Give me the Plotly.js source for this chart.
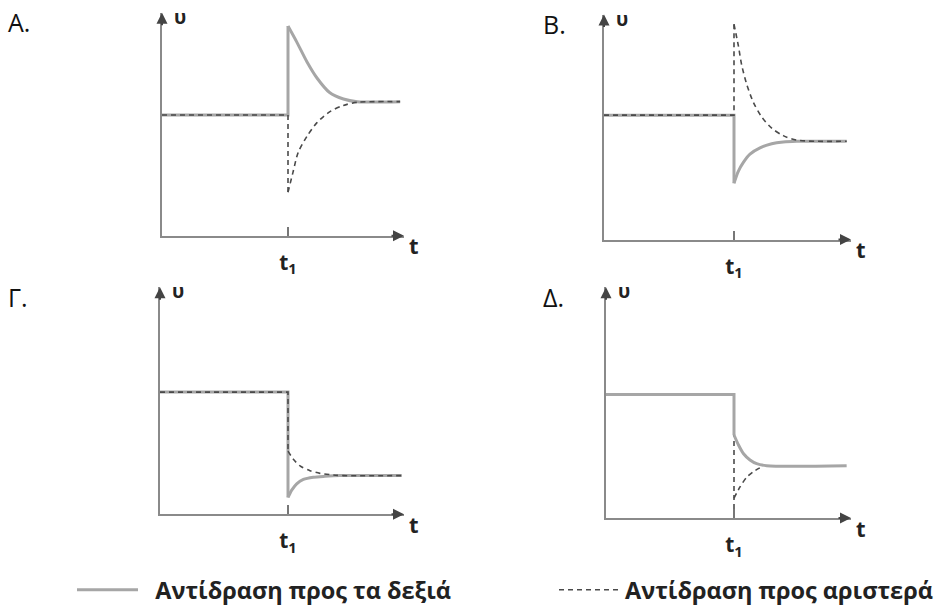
<!DOCTYPE html>
<html>
<head>
<meta charset="utf-8">
<script src="https://cdn.plot.ly/plotly-3.0.1.min.js"></script>
<style>
  html, body { margin: 0; padding: 0; background: #fff; }
  #plot { width: 941px; height: 612px; }
</style>
</head>
<body>
<div id="plot"></div>
<script>
// t in units where t1 = 1, υ in units 0..10 (axis height)
const seriesNames = ['Αντίδραση προς τα δεξιά', 'Αντίδραση προς αριστερά'];
const panelLabels = ['Α.', 'Β.', 'Γ.', 'Δ.'];

// Α
const aLevel = 5.41;
const aSolidT = [1, 1.07, 1.15, 1.23, 1.33, 1.44, 1.55, 1.89];
const aSolidV = [9.40, 8.68, 7.80, 7.07, 6.42, 6.13, 6.01, 6.01];
const aDashT = [1, 1.04, 1.08, 1.15, 1.23, 1.33, 1.44, 1.55, 1.89];
const aDashV = [1.95, 2.85, 3.72, 4.45, 5.07, 5.55, 5.84, 5.98, 6.01];

// Β
const bLevel = 5.53;
const bSolidT = [1, 1.033, 1.072, 1.123, 1.2, 1.29, 1.379, 1.482, 1.867];
const bSolidV = [2.50, 3.03, 3.43, 3.80, 4.08, 4.26, 4.34, 4.37, 4.37];
const bDashT = [1, 1.033, 1.059, 1.098, 1.149, 1.213, 1.29, 1.379, 1.482, 1.867];
const bDashV = [9.57, 8.63, 7.76, 6.90, 6.10, 5.45, 4.95, 4.62, 4.42, 4.37];

// Γ
const cLevel = 5.38;
const cSolidT = [1, 1.029, 1.068, 1.12, 1.198, 1.289, 1.406, 1.888];
const cSolidV = [0.74, 1.06, 1.34, 1.53, 1.63, 1.67, 1.70, 1.70];
const cDashT = [1, 1.042, 1.094, 1.172, 1.25, 1.354, 1.432, 1.888];
const cDashV = [2.78, 2.42, 2.13, 1.92, 1.80, 1.73, 1.70, 1.70];

// Δ
const dLevel = 5.36;
const dSolidT = [1, 1.034, 1.073, 1.125, 1.177, 1.255, 1.88];
const dSolidV = [3.60, 3.18, 2.80, 2.52, 2.36, 2.27, 2.27];
const dDashT = [1, 1.047, 1.099, 1.151, 1.216];
const dDashV = [0.86, 1.35, 1.77, 2.01, 2.22];

const W = 941, H = 612;
const FONT = 'Open Sans, sans-serif';
const SOLID = { color: '#a6a6a6', width: 3 };
const DASH = { color: '#4a4a4a', width: 1.6, dash: '5px,4px' };

// pixel boxes of each panel: y-axis x, t1 x, arrow tip x, x-axis y, arrow tip y
const panels = [
  { label: panelLabels[0], box: { left: 162, t1: 288, tip: 404, bottom: 242, top: 13 },
    level: aLevel, sT: aSolidT, sV: aSolidV, dT: aDashT, dV: aDashV, dashFirst: false, dashLevel: true },
  { label: panelLabels[1], box: { left: 604, t1: 734, tip: 851, bottom: 246, top: 15 },
    level: bLevel, sT: bSolidT, sV: bSolidV, dT: bDashT, dV: bDashV, dashFirst: false, dashLevel: true },
  { label: panelLabels[2], box: { left: 160, t1: 288, tip: 404, bottom: 528, top: 295 },
    level: cLevel, sT: cSolidT, sV: cSolidV, dT: cDashT, dV: cDashV, dashFirst: false, dashLevel: true },
  { label: panelLabels[3], box: { left: 606, t1: 734, tip: 851, bottom: 532, top: 295 },
    level: dLevel, sT: dSolidT, sV: dSolidV, dT: dDashT, dV: dDashV, dashFirst: true, dashLevel: false }
];

const legendStyle = (x) => ({
  orientation: 'h', x: x / W, y: 1 - 606 / H, xanchor: 'left', yanchor: 'middle',
  itemwidth: 61, bgcolor: 'rgba(0,0,0,0)',
  font: { family: FONT, size: 23.5, color: '#222', weight: 'bold' }
});

const traces = [];
const layout = {
  width: W, height: H,
  margin: { l: 0, r: 0, t: 0, b: 0 },
  paper_bgcolor: '#fff', plot_bgcolor: 'rgba(0,0,0,0)',
  showlegend: true,
  legend: legendStyle(72),
  legend2: legendStyle(554),
  annotations: []
};

panels.forEach((p, i) => {
  const n = i === 0 ? '' : String(i + 1);
  const xa = 'x' + n, ya = 'y' + n;
  const b = p.box;
  const ppu = b.t1 - b.left;
  const tMax = (b.tip - b.left) / ppu;

  layout['xaxis' + n] = {
    domain: [b.left / W, b.tip / W], range: [0, tMax], anchor: ya,
    showgrid: false, zeroline: false, showline: true, linecolor: '#8a8a8a', linewidth: 2,
    tickvals: [1], ticktext: ['t<sub>1</sub>'], ticks: 'inside', ticklen: 9,
    tickcolor: '#777', tickwidth: 1.5, ticklabelstandoff: 7,
    tickfont: { family: FONT, size: 21, color: '#222', weight: 'bold' },
    fixedrange: true
  };
  layout['yaxis' + n] = {
    domain: [1 - b.bottom / H, 1 - b.top / H], range: [0, 10], anchor: xa,
    showgrid: false, zeroline: false, showline: true, linecolor: '#8a8a8a', linewidth: 2,
    showticklabels: false, ticks: '', fixedrange: true
  };

  const solid = [
    { x: [0, 1, 1], y: [p.level, p.level, p.sV[0]], mode: 'lines', line: SOLID,
      xaxis: xa, yaxis: ya, name: '\u00a0\u00a0' + seriesNames[0], legend: 'legend',
      legendgroup: 's', showlegend: i === 0, hoverinfo: 'skip' },
    { x: p.sT, y: p.sV, mode: 'lines', line: Object.assign({ shape: 'spline', smoothing: 0.8 }, SOLID),
      xaxis: xa, yaxis: ya, legendgroup: 's', showlegend: false, hoverinfo: 'skip' }
  ];
  // in Δ the dashed drop is visible from the axis upward, under the solid line
  const dStep = p.dashLevel ? { x: [0, 1, 1], y: [p.level, p.level, p.dV[0]] }
                            : { x: [1, 1], y: [0, p.level] };
  const dashed = [
    { x: dStep.x, y: dStep.y, mode: 'lines', line: DASH,
      xaxis: xa, yaxis: ya, name: seriesNames[1], legend: 'legend2',
      legendgroup: 'd', showlegend: i === 0, hoverinfo: 'skip' },
    { x: p.dT, y: p.dV, mode: 'lines', line: Object.assign({ shape: 'spline', smoothing: 0.8 }, DASH),
      xaxis: xa, yaxis: ya, legend: 'legend2', legendgroup: 'd', showlegend: false, hoverinfo: 'skip' }
  ];
  if (p.dashFirst) traces.push(...dashed, ...solid);
  else traces.push(...solid, ...dashed);

  // arrow heads
  layout.annotations.push(
    { xref: xa, yref: ya, x: tMax, y: 0, ax: -14, ay: 0, text: '', showarrow: true,
      arrowhead: 2, arrowsize: 1.1, arrowwidth: 2, arrowcolor: '#444' },
    { xref: xa, yref: ya, x: 0, y: 10, ax: 0, ay: 14, text: '', showarrow: true,
      arrowhead: 2, arrowsize: 1.1, arrowwidth: 2, arrowcolor: '#444' }
  );
  // axis letters and panel label
  layout.annotations.push(
    { xref: 'paper', yref: 'paper', x: (b.left + 18) / W, y: 1 - (b.top + 4) / H,
      text: 'υ', showarrow: false, xanchor: 'center', yanchor: 'middle',
      font: { family: FONT, size: 19, color: '#222', weight: 'bold' } },
    { xref: 'paper', yref: 'paper', x: (b.tip + 10) / W, y: 1 - (b.bottom + 10) / H,
      text: 't', showarrow: false, xanchor: 'center', yanchor: 'middle',
      font: { family: FONT, size: 22, color: '#222', weight: 'bold' } },
    { xref: 'paper', yref: 'paper', x: (i % 2 === 0 ? 6 : 541) / W, y: 1 - (b.top + 10) / H,
      text: p.label, showarrow: false, xanchor: 'left', yanchor: 'middle',
      font: { family: FONT, size: 25, color: '#111' } }
  );
});

Plotly.newPlot('plot', traces, layout, { displayModeBar: false, staticPlot: true });
</script>
</body>
</html>
